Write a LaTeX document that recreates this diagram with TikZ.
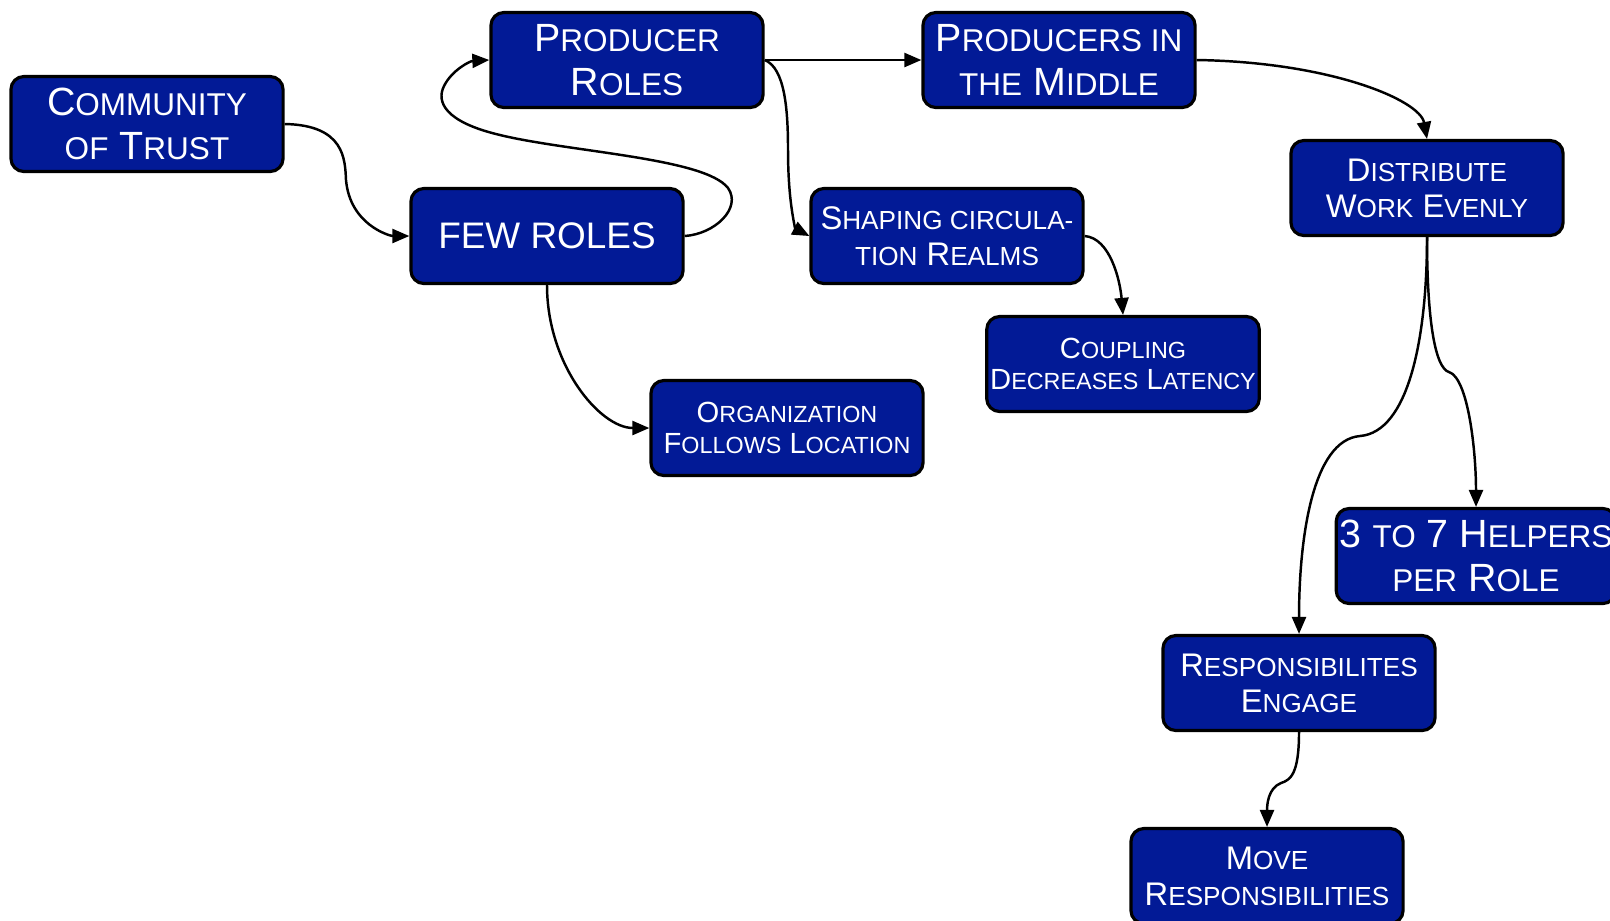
\documentclass[tikz,border=0pt]{standalone}
\usepackage{fontspec}
\setmainfont{Liberation Sans}
\usepackage{graphicx}
\usetikzlibrary{arrows.meta}
\definecolor{boxblue}{RGB}{2,26,150}
\newcommand{\lowcap}[1]{\scalebox{0.8}{#1}}

\begin{document}
\begin{tikzpicture}[x=0.01cm, y=-0.01cm,
  box/.style={draw=black, line width=0.9pt, fill=boxblue, rounded corners=1.3mm, text=white, align=center, minimum width=2.72cm, minimum height=0.95cm, inner sep=1pt},
  bigtxt/.style={font=\fontsize{11.2}{12.5}\selectfont},
  midtxt/.style={font=\fontsize{9.3}{10.3}\selectfont},
  smalltxt/.style={font=\fontsize{8.3}{9}\selectfont},
  link/.style={line width=0.7pt, -{Triangle[length=1.7mm, width=1.4mm]}}]
\useasboundingbox (0,0) rectangle (1610,920);
\node[box,bigtxt] (trust) at (147,124) {C\lowcap{OMMUNITY}\\\lowcap{OF} T\lowcap{RUST}};
\node[box,bigtxt] (producer) at (627,60) {P\lowcap{RODUCER}\\R\lowcap{OLES}};
\node[box,bigtxt] (middle) at (1059,60) {P\lowcap{RODUCERS IN}\\\lowcap{THE} M\lowcap{IDDLE}};
\node[box,font=\fontsize{10.5}{12}\selectfont] (few) at (547,236) {FEW ROLES};
\node[box,midtxt] (shaping) at (947,236) {S\lowcap{HAPING CIRCULA-}\\\lowcap{TION} R\lowcap{EALMS}};
\node[box,midtxt] (distribute) at (1427,188) {D\lowcap{ISTRIBUTE}\\W\lowcap{ORK} E\lowcap{VENLY}};
\node[box,smalltxt] (coupling) at (1123,364) {C\lowcap{OUPLING}\\D\lowcap{ECREASES} L\lowcap{ATENCY}};
\node[box,smalltxt] (location) at (787,428) {O\lowcap{RGANIZATION}\\F\lowcap{OLLOWS} L\lowcap{OCATION}};
\node[box,bigtxt] (helpers) at (1476,556) {3 \lowcap{TO} 7 H\lowcap{ELPERS}\\\lowcap{PER} R\lowcap{OLE}};
\node[box,midtxt] (engage) at (1299,683) {R\lowcap{ESPONSIBILITES}\\E\lowcap{NGAGE}};
\node[box,midtxt] (move) at (1267,876) {M\lowcap{OVE}\\R\lowcap{ESPONSIBILITIES}};

\draw[link] (trust.east) .. controls (345,125) and (345,160) .. (346,180) .. controls (350,225) and (390,236) .. (few.west);
\draw[link] (few.east) .. controls (715,234) and (742,208) .. (728,188) .. controls (705,158) and (570,152) .. (500,135) .. controls (445,122) and (436,102) .. (444,86) .. controls (452,70) and (470,61) .. (producer.west);
\draw[link] (producer.east) -- (middle.west);
\draw[link] (producer.east) .. controls (785,68) and (788,110) .. (788,150) .. controls (788,205) and (796,229) .. (shaping.west);
\draw[link] (middle.east) .. controls (1330,62) and (1420,100) .. (distribute.north);
\draw[link] (shaping.east) .. controls (1110,238) and (1120,280) .. (coupling.north);
\draw[link] (few.south) .. controls (547,365) and (600,428) .. (location.west);
\draw[link] (distribute.south) .. controls (1427,340) and (1408,432) .. (1360,436) .. controls (1312,440) and (1299,540) .. (engage.north);
\draw[link] (distribute.south) .. controls (1427,320) and (1435,368) .. (1449,372) .. controls (1468,378) and (1476,450) .. (helpers.north);
\draw[link] (engage.south) .. controls (1299,775) and (1290,780) .. (1281,783) .. controls (1268,788) and (1267,805) .. (move.north);
\end{tikzpicture}
\end{document}
